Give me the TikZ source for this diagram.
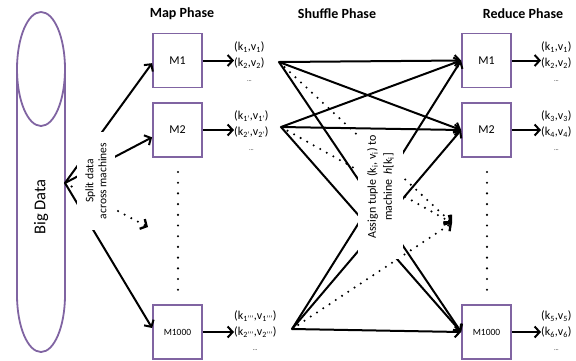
\documentclass[tikz,border=0pt]{standalone}
\usepackage{fontspec}
\setmainfont{Carlito}
\usetikzlibrary{arrows.meta}
\definecolor{boxpurple}{HTML}{8064A2}
\begin{document}
\begin{tikzpicture}[x=1pt,y=-1pt,
  mbox/.style={draw=boxpurple, line width=1.8pt, fill=white, minimum width=49pt, minimum height=54pt, inner sep=0pt, font=\fontsize{12}{14}\selectfont},
  smallm/.style={font=\fontsize{9.5}{11}\selectfont},
  arr/.style={line width=2pt, -{Straight Barb[length=5pt,width=11pt]}},
  dotarr/.style={line width=2.3pt, line cap=round, dash pattern=on 0pt off 7.5pt, -{Straight Barb[length=5pt,width=11pt,line cap=butt]}},
  title/.style={font=\fontsize{14}{16}\selectfont\bfseries, inner sep=0pt},
  kv/.style={align=center, font=\fontsize{12}{15.5}\selectfont, inner sep=0pt, anchor=west},
  lbl/.style={fill=white, rotate=90, align=center, inner sep=0pt}
]
\useasboundingbox (0,0) rectangle (576,360);

% Big Data cylinder
\draw[draw=boxpurple, line width=1.8pt, fill=white] (17,69) -- (17,295) arc[start angle=180, end angle=0, x radius=24, y radius=57] -- (65,69);
\draw[draw=boxpurple, line width=1.8pt] (41,69) ellipse[x radius=24, y radius=57];
\node[rotate=90, font=\fontsize{16.5}{18}\selectfont] (bd) at (41,207) {Big Data};

% titles
\node[title] (tmap) at (182,14) {Map Phase};
\node[title] (tshuf) at (337,14) {Shuffle Phase};
\node[title] (tred) at (523,14) {Reduce Phase};

% map machines
\node[mbox] (m1) at (177.5,60.5) {M1};
\node[mbox] (m2) at (177.5,130) {M2};
\node[mbox, smallm] (m3) at (177.5,332) {M1000};

% reduce machines
\node[mbox] (r1) at (486.5,60.5) {M1};
\node[mbox] (r2) at (486.5,130) {M2};
\node[mbox, smallm] (r3) at (486.5,332) {M1000};

% vertical dots
\foreach \i in {0,...,11} {
  \fill (178,172+10.7*\i) circle (1.2pt);
  \fill (487,172+10.7*\i) circle (1.2pt);
}

% split arrows
\coordinate (sp) at (65,183);
\coordinate (sd) at (148,227);
\draw[arr] (sp) -- (m1.186);
\draw[arr] (sp) -- (m2.196);
\draw[arr] (sp) -- (m3.171);
\draw[dotarr] (sp) -- (sd);
\node[lbl, minimum width=98pt, minimum height=38pt, font=\fontsize{11.5}{13}\selectfont] (split) at (96,181) {Split data\\across machines};

% map outputs
\node[kv] (k1) at (234,62) {(k\textsubscript{1},v\textsubscript{1})\\(k\textsubscript{2},v\textsubscript{2})\\{\fontsize{6}{6}\selectfont …}};
\node[kv] (k2) at (234,131) {(k\textsubscript{1’},v\textsubscript{1’})\\(k\textsubscript{2’},v\textsubscript{2’})\\{\fontsize{6}{6}\selectfont …}};
\node[kv] (k3) at (234,331) {(k\textsubscript{1’’’},v\textsubscript{1’’’})\\(k\textsubscript{2’’’},v\textsubscript{2’’’})\\{\fontsize{6}{6}\selectfont …}};
\draw[arr] (m1.east) -- (m1.east -| k1.west) coordinate (a1);
\draw[arr] (m2.east) -- (m2.east -| k2.west) coordinate (a2);
\draw[arr] (m3.east) -- (m3.east -| k3.west) coordinate (a3);

% reduce outputs
\node[kv] (q1) at (541,62) {(k\textsubscript{1},v\textsubscript{1})\\(k\textsubscript{2},v\textsubscript{2})\\{\fontsize{6}{6}\selectfont …}};
\node[kv] (q2) at (541,131) {(k\textsubscript{3},v\textsubscript{3})\\(k\textsubscript{4},v\textsubscript{4})\\{\fontsize{6}{6}\selectfont …}};
\node[kv] (q3) at (541,331) {(k\textsubscript{5},v\textsubscript{5})\\(k\textsubscript{6},v\textsubscript{6})\\{\fontsize{6}{6}\selectfont …}};
\draw[arr] (r1.east) -- (r1.east -| q1.west);
\draw[arr] (r2.east) -- (r2.east -| q2.west);
\draw[arr] (r3.east) -- (r3.east -| q3.west);

% shuffle
\coordinate (o1) at (279,62);
\coordinate (o2) at (281,127);
\coordinate (o3) at (292,329);
\coordinate (t) at (452,223);
\foreach \o in {o1,o2,o3} {
  \draw[arr] (\o) -- (r1.west);
  \draw[arr] (\o) -- (r3.west);
  \draw[dotarr] (\o) -- (t);
}
\draw[arr] (o1) -- (r2.west);
\draw[arr] (o3) -- (r2.west);
\node[lbl, minimum width=144pt, minimum height=45pt, font=\fontsize{12}{16}\selectfont] (assign) at (380.5,187) {Assign tuple (k\textsubscript{i}, v\textsubscript{i}) to\\machine \,\textit{h}[k\textsubscript{i}]};
\draw[arr] (o2) -- (r2.west);
\end{tikzpicture}
\end{document}
